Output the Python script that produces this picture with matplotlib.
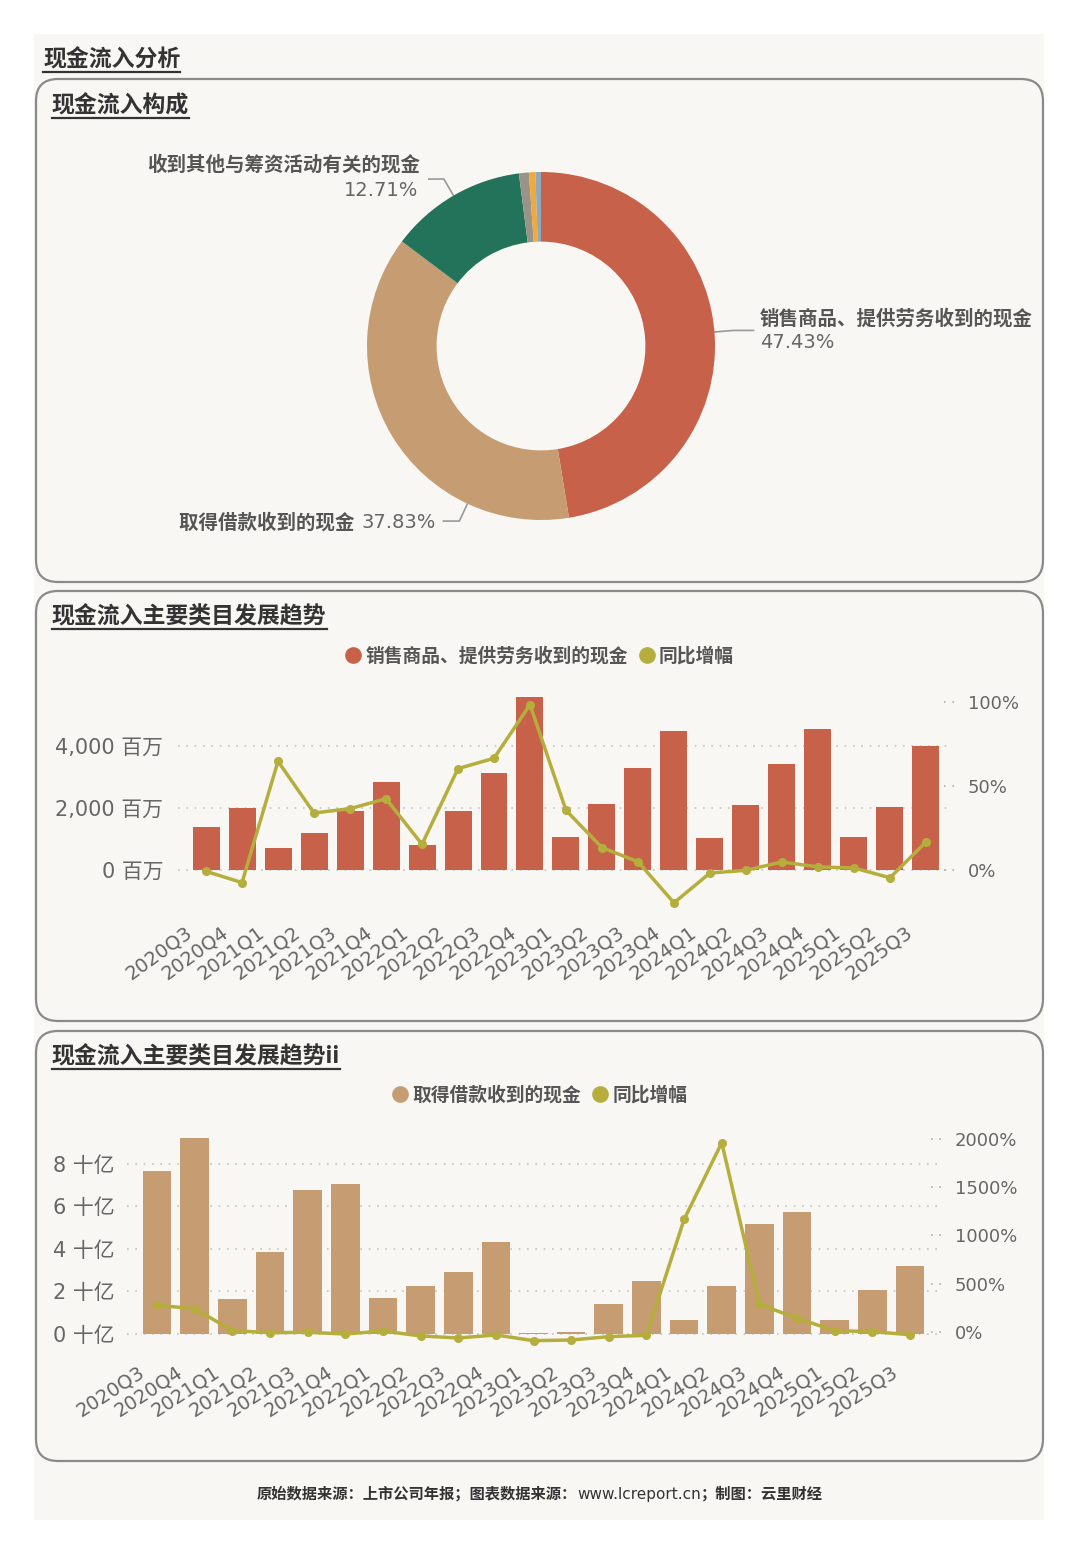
import numpy as np
import matplotlib.pyplot as plt
from matplotlib.patches import FancyBboxPatch, Rectangle
from matplotlib.lines import Line2D
from matplotlib.ticker import FuncFormatter
from matplotlib.font_manager import FontProperties
from matplotlib.transforms import blended_transform_factory, ScaledTranslation

plt.rcParams['font.family'] = ['DejaVu Sans', 'Noto Sans CJK SC']
CJK = ['Noto Sans CJK SC', 'DejaVu Sans']

# ---- data ----
quarters = ['2020Q3', '2020Q4', '2021Q1', '2021Q2', '2021Q3', '2021Q4', '2022Q1',
            '2022Q2', '2022Q3', '2022Q4', '2023Q1', '2023Q2', '2023Q3', '2023Q4',
            '2024Q1', '2024Q2', '2024Q3', '2024Q4', '2025Q1', '2025Q2', '2025Q3']

# 销售商品、提供劳务收到的现金 (百万) and yoy (%)
sales = [1400, 1990, 710, 1200, 1890, 2830, 800, 1890, 3120, 5580, 1060,
         2140, 3280, 4480, 1040, 2110, 3430, 4550, 1060, 2030, 4010]
sales_yoy = [-0.8, -7.5, 64.7, 33.9, 36.5, 42.4, 15.3, 60.3, 66.5, 98.4, 35.5,
             13.3, 4.9, -19.5, -1.8, -0.2, 4.8, 1.8, 1.2, -4.6, 16.7]

# 取得借款收到的现金 (十亿) and yoy (%)
loans = [7.68, 9.21, 1.65, 3.86, 6.79, 7.07, 1.71, 2.24, 2.92, 4.31, 0.055,
         0.11, 1.43, 2.49, 0.67, 2.24, 5.19, 5.76, 0.67, 2.07, 3.18]
loans_yoy = [276, 242, 14, -7, -3, -21, 10, -41, -62, -31, -90,
             -83, -48, -35, 1167, 1961, 287, 142, 14, 3, -28]

pie_labels = ['销售商品、提供劳务收到的现金', '取得借款收到的现金', '收到其他与筹资活动有关的现金',
              '其他1', '其他2', '其他3']
pie_values = [47.43, 37.83, 12.71, 0.92, 0.60, 0.51]
pie_colors = ['#C8614A', '#C69C72', '#23735A', '#9A938A', '#F2A93B', '#8DA9BE']

RED = '#C8614A'
TAN = '#C69C72'
OLIVE = '#B5AE3C'
BG = '#F8F7F3'

W, H = 1080, 1555
fig = plt.figure(figsize=(10.8, 15.55), dpi=100, facecolor='white')
bg = fig.add_axes([0, 0, 1, 1])
bg.set_xlim(0, W)
bg.set_ylim(H, 0)
bg.axis('off')
bg.add_patch(Rectangle((34, 34), 1010, 1486, facecolor=BG, edgecolor='none'))
for y0, y1 in [(79, 582), (591, 1021), (1031, 1461)]:
    bg.add_patch(FancyBboxPatch((36, y0), 1007, y1 - y0,
                                boxstyle='round,pad=0,rounding_size=22',
                                facecolor=BG, edgecolor='#8a8a8a', linewidth=1.6))

renderer = fig.canvas.get_renderer()


def px_axes(x0, y0, x1, y1):
    return fig.add_axes([x0 / W, 1 - y1 / H, (x1 - x0) / W, (y1 - y0) / H])


def width_px(t):
    bb = t.get_window_extent(renderer)
    return bb.width


def title(x, y, s):
    t = bg.text(x, y, s, fontsize=16.5, fontweight='bold', color='#333333',
                va='center', ha='left', family=CJK)
    w = width_px(t)
    bg.plot([x, x + w], [y + 12, y + 12], color='#333333', lw=1.6)


def text_run(x, y, pieces, size, ha='left'):
    # pieces: (string, weight, color)
    ts = []
    for s, wgt, col in pieces:
        ts.append(bg.text(0, y, s, fontsize=size, fontweight=wgt, color=col,
                          va='center', ha='left'))
    widths = [width_px(t) for t in ts]
    total = sum(widths)
    start = x if ha == 'left' else (x - total if ha == 'right' else x - total / 2)
    for t, w in zip(ts, widths):
        t.set_x(start)
        start += w


title(43, 60, '现金流入分析')
title(52, 106, '现金流入构成')
title(52, 617, '现金流入主要类目发展趋势')
title(52, 1057, '现金流入主要类目发展趋势ii')

# ---- donut ----
cx, cy, R = 541, 346, 174
axp = px_axes(cx - R, cy - R, cx + R, cy + R)
axp.pie(pie_values, colors=pie_colors, startangle=90, counterclock=False,
        radius=1, wedgeprops=dict(width=0.4, linewidth=0))
axp.set_xlim(-1, 1)
axp.set_ylim(-1, 1)
axp.axis('off')


def leader(angle, direction, length2):
    a = np.deg2rad(angle)
    p0 = (cx + R * np.cos(a), cy - R * np.sin(a))
    p1 = (cx + 1.11 * R * np.cos(a), cy - 1.11 * R * np.sin(a))
    p2 = (p1[0] + direction * length2, p1[1])
    bg.plot([p0[0], p1[0], p2[0]], [p0[1], p1[1], p2[1]], color='#999999', lw=1.2)


cum = np.cumsum([0] + pie_values[:-1])
mids = [90 - (c + v / 2) * 3.6 for c, v in zip(cum, pie_values)]
leader(mids[0], 1, 20)
leader(mids[2], -1, 15)
leader(-115, -1, 16)

lab_col, pct_col = '#555555', '#666666'
bg.text(760, 319, pie_labels[0], fontsize=14, fontweight='bold', color=lab_col,
        va='center', ha='left', family=CJK)
bg.text(760, 343, f'{pie_values[0]:.2f}%', fontsize=14, color=pct_col, va='center', ha='left')
bg.text(420, 165, pie_labels[2], fontsize=14, fontweight='bold', color=lab_col,
        va='center', ha='right', family=CJK)
bg.text(418, 190, f'{pie_values[2]:.2f}%', fontsize=14, color=pct_col, va='center', ha='right')
text_run(436, 523, [(pie_labels[1] + ' ', 'bold', lab_col),
                    (f'{pie_values[1]:.2f}%', 'normal', pct_col)], 14, ha='right')

# ---- bar + line charts ----
x = np.arange(len(quarters))
dots = (0, (1, 4))


def style_axes(ax, ax2, left_fmt, lticks, rticks, lpad, rotation, xpad, xshift):
    for a in (ax, ax2):
        for s in a.spines.values():
            s.set_visible(False)
        a.patch.set_visible(False)
    ax.set_yticks(lticks)
    ax.yaxis.set_major_formatter(FuncFormatter(left_fmt))
    ax.grid(axis='y', linestyle=dots, color='#c4c4c4', linewidth=1.2)
    ax.set_axisbelow(True)
    ax.tick_params(axis='y', length=0, pad=lpad, labelsize=15, labelcolor='#666666')
    ax.set_xticks(x)
    ax.set_xticklabels(quarters, rotation=rotation, ha='right', va='center',
                       rotation_mode='anchor')
    ax.tick_params(axis='x', length=0, pad=xpad, labelsize=14, labelcolor='#666666')
    off = ScaledTranslation(-xshift / 100, 0, fig.dpi_scale_trans)
    for lab in ax.get_xticklabels():
        lab.set_transform(lab.get_transform() + off)
    ax2.set_yticks(rticks)
    ax2.yaxis.set_major_formatter(FuncFormatter(lambda v, p: f'{v:.0f}%'))
    ax2.tick_params(axis='y', length=0, pad=13, labelsize=13, labelcolor='#666666')
    tr = blended_transform_factory(ax2.transAxes, ax2.transData)
    for v in rticks:
        ax2.plot([0.992, 1.008], [v, v], transform=tr, linestyle=dots,
                 color='#b0b0b0', lw=1.2, clip_on=False)


def legend(color, label, y):
    handles = [Line2D([], [], marker='o', linestyle='None', markersize=11,
                      markerfacecolor=color, markeredgecolor=color),
               Line2D([], [], marker='o', linestyle='None', markersize=11,
                      markerfacecolor=OLIVE, markeredgecolor=OLIVE)]
    fig.legend(handles, [label, '同比增幅'], loc='center', bbox_to_anchor=(540 / W, 1 - y / H),
               ncol=2, frameon=False, handlelength=0.8, handletextpad=0.25, columnspacing=0.6,
               labelcolor='#555555', prop=FontProperties(family=CJK, weight='bold', size=13.5))


# chart 1
ax1 = px_axes(178, 688, 950, 912)
ax1.bar(x, sales, width=0.75, color=RED, zorder=2)
ax1.set_xlim(-0.778, 20.667)
ax1.set_ylim(-1355, 5871)
ax1b = ax1.twinx()
ax1b.plot(x, sales_yoy, color=OLIVE, lw=2.5, marker='o', ms=5.5, zorder=3)
ax1b.set_ylim(-25, 108.3)
style_axes(ax1, ax1b, lambda v, p: f'{v:,.0f} 百万', [0, 2000, 4000], [0, 50, 100],
           10.5, 36, 13, 16)
legend(RED, '销售商品、提供劳务收到的现金', 656)

# chart 2
ax2 = px_axes(127, 1128, 937, 1348)
ax2.bar(x, loans, width=0.76, color=TAN, zorder=2)
ax2.set_xlim(-0.797, 20.717)
ax2.set_ylim(-0.659, 9.69)
ax2b = ax2.twinx()
ax2b.plot(x, loans_yoy, color=OLIVE, lw=2.5, marker='o', ms=5.5, zorder=3)
ax2b.set_ylim(-166, 2114)
style_axes(ax2, ax2b, lambda v, p: f'{v:.0f} 十亿', [0, 2, 4, 6, 8], [0, 500, 1000, 1500, 2000],
           9, 33, 16, 14)
legend(TAN, '取得借款收到的现金', 1095)

# footer
text_run(540, 1494, [('原始数据来源：上市公司年报；图表数据来源：', 'bold', '#333333'),
                     ('www.lcreport.cn', 'normal', '#333333'),
                     ('；制图：云里财经', 'bold', '#333333')], 11, ha='center')

fig.savefig('out.png', dpi=100, facecolor='white')
